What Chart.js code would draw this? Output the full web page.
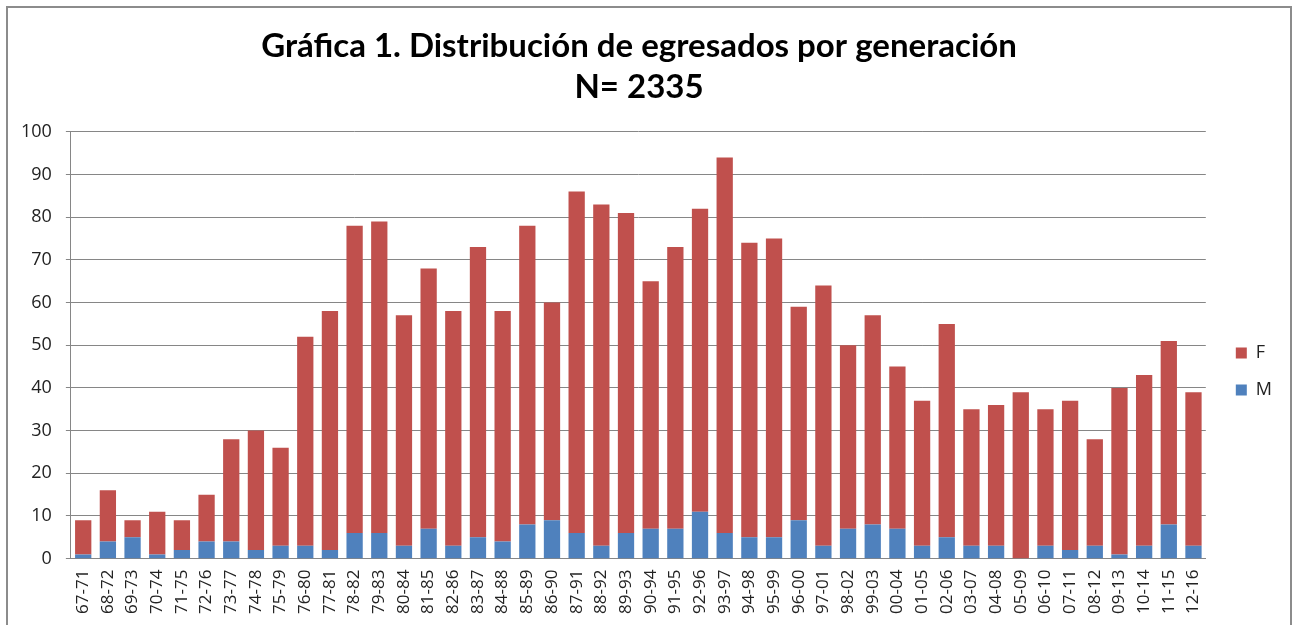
<!DOCTYPE html>
<html>
<head>
<meta charset="utf-8">
<script src="https://cdn.jsdelivr.net/npm/chart.js@4.4.1/dist/chart.umd.min.js"></script>
<style>
  html, body { margin: 0; padding: 0; background: #fff; overflow: hidden; }
  #frame { position: absolute; left: 6px; top: 6px; width: 1282px; height: 700px; border: 2px solid #8c8c8c; }
  #wrap { position: absolute; left: 0; top: 0; width: 1293px; height: 625px; }
</style>
</head>
<body>
<div id="frame"></div>
<div id="wrap"><canvas id="egresados"></canvas></div>
<script>
// generaciones (eje x)
const generaciones = ['67-71','68-72','69-73','70-74','71-75','72-76','73-77','74-78','75-79','76-80',
  '77-81','78-82','79-83','80-84','81-85','82-86','83-87','84-88','85-89','86-90',
  '87-91','88-92','89-93','90-94','91-95','92-96','93-97','94-98','95-99','96-00',
  '97-01','98-02','99-03','00-04','01-05','02-06','03-07','04-08','05-09','06-10',
  '07-11','08-12','09-13','10-14','11-15','12-16'];

// hombres
const hombres = [1,4,5,1,2,4,4,2,3,3,
  2,6,6,3,7,3,5,4,8,9,
  6,3,6,7,7,11,6,5,5,9,
  3,7,8,7,3,5,3,3,0,3,
  2,3,1,3,8,3];

// mujeres
const mujeres = [8,12,4,10,7,11,24,28,23,49,
  56,72,73,54,61,55,68,54,70,51,
  80,80,75,58,66,71,88,69,70,50,
  61,43,49,38,34,50,32,33,39,32,
  35,25,39,40,43,36];

const tituloLineas = ['Gráfica 1. Distribución de egresados por generación', 'N= 2335'];

// mueve la leyenda un poco, como en el original
const moverLeyenda = {
  id: 'moverLeyenda',
  afterLayout(chart) {
    const lg = chart.legend;
    if (!lg) return;
    const dx = 11, dy = 63;
    lg.left += dx; lg.right += dx;
    lg.top += dy; lg.bottom += dy;
  }
};

const egresados_config = {
  type: 'bar',
  data: {
    labels: generaciones,
    datasets: [
      { label: 'M', data: hombres, backgroundColor: '#4f81bd' },
      { label: 'F', data: mujeres, backgroundColor: '#c0504d' }
    ]
  },
  options: {
    responsive: true,
    maintainAspectRatio: false,
    animation: false,
    layout: { padding: { left: 7, right: 22, top: 0, bottom: 8 } },
    datasets: { bar: { categoryPercentage: 1, barPercentage: 0.66 } },
    plugins: {
      title: {
        display: true,
        text: tituloLineas,
        color: '#000',
        font: { family: 'Lato, sans-serif', weight: 'bold', size: 33, lineHeight: 1.24 },
        padding: { top: 26, bottom: 24 }
      },
      legend: {
        position: 'right',
        reverse: true,
        labels: {
          boxWidth: 11, boxHeight: 11, padding: 19,
          color: '#222',
          font: { family: 'Open Sans', size: 18 }
        }
      },
      tooltip: { enabled: false }
    },
    scales: {
      x: {
        stacked: true,
        grid: { display: false },
        border: { display: true, color: '#868686' },
        ticks: {
          minRotation: 90, maxRotation: 90, autoSkip: false,
          color: '#222',
          font: { family: 'Open Sans', size: 17 }
        }
      },
      y: {
        stacked: true,
        min: 0, max: 100,
        grid: { color: '#868686', tickLength: 5 },
        border: { display: true, color: '#868686' },
        ticks: {
          stepSize: 10, padding: 14,
          color: '#222',
          font: { family: 'Open Sans', size: 18 }
        }
      }
    }
  },
  plugins: [moverLeyenda]
};

var egresadosChart = new Chart(
  document.getElementById('egresados'),
  egresados_config
);
</script>
</body>
</html>
